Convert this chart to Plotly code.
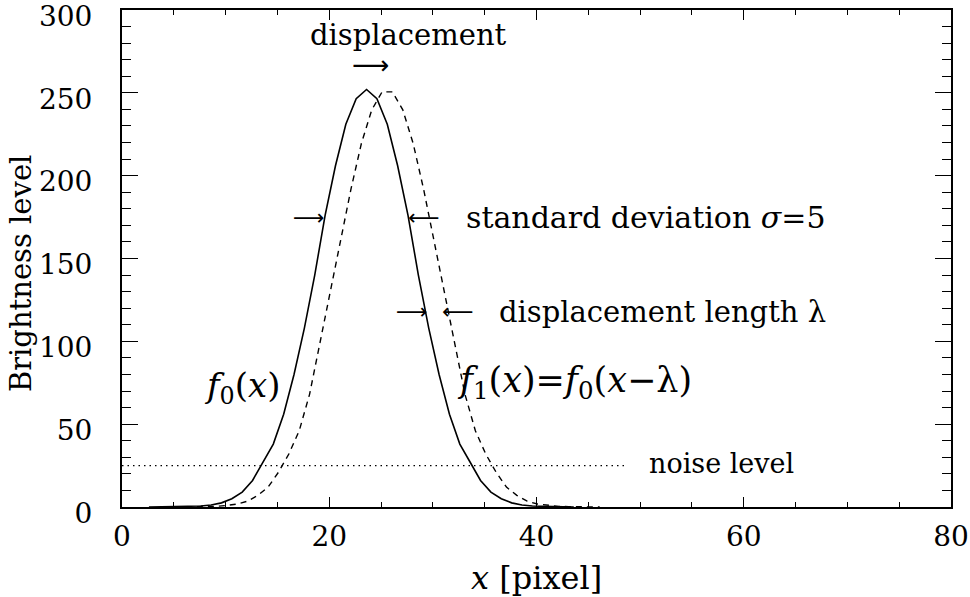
import plotly.graph_objects as go

# ---- data ----
# solid curve f0(x): sampled at unit steps, peak near x = 23.6
x0_start = 2.6
f0_values = [0.0, 0.1, 0.1, 0.2, 0.3, 0.6, 1.2, 2.5, 5.0, 9.0, 16.0, 27.0, 38.0, 56.0, 80.0,
             108.0, 140.0, 176.0, 206.0, 231.0, 246.5, 252.0, 246.5, 231.0, 206.0, 176.0,
             140.0, 108.0, 80.0, 56.0, 38.0, 27.0, 16.0, 9.0, 5.0, 2.5, 1.2, 0.6, 0.3, 0.2,
             0.1, 0.0]
# dashed curve f1(x) = f0(x - lambda): peak near x = 25.6
x1_start = 5.1
f1_values = [0.0, 0.1, 0.1, 0.2, 0.4, 0.9, 1.8, 3.5, 7.0, 12.0, 21.0, 32.0, 46.0, 68.0, 98.7,
             128.8, 160.9, 192.0, 219.4, 239.7, 250.6, 250.6, 239.7, 219.4, 192.0, 160.9,
             128.8, 98.7, 68.0, 46.0, 32.0, 21.0, 12.0, 7.0, 3.5, 1.8, 0.9, 0.4, 0.2, 0.1,
             0.1, 0.0]
noise_x = [0.0, 48.7]
noise_level = [25.0, 25.0]

x_ticks = [0, 20, 40, 60, 80]
y_ticks = [0, 50, 100, 150, 200, 250, 300]

x0 = [x0_start + i for i in range(len(f0_values))]
x1 = [x1_start + i for i in range(len(f1_values))]

FONT = "DejaVu Serif"
ARROW_FONT = "DejaVu Sans"

fig = go.Figure()
fig.add_trace(go.Scatter(x=x0, y=f0_values, mode="lines",
                         line=dict(color="black", width=1.6), showlegend=False))
fig.add_trace(go.Scatter(x=x1, y=f1_values, mode="lines",
                         line=dict(color="black", width=1.4, dash="6px,5px"), showlegend=False))
fig.add_trace(go.Scatter(x=noise_x, y=noise_level, mode="lines",
                         line=dict(color="black", width=1.2, dash="1.5px,4px"), showlegend=False))

def txt(x, y, s, size=29, xanchor="center", family=FONT):
    fig.add_annotation(x=x, y=y, xref="x", yref="y", text=s, showarrow=False,
                       xanchor=xanchor, yanchor="middle",
                       font=dict(family=family, size=size, color="black"))

txt(27.6, 285, "displacement")
txt(24.0, 267, "⟶", size=26, family=ARROW_FONT)
txt(18.0, 175, "⟶", size=22, family=ARROW_FONT)
txt(29.1, 175, "⟵", size=22, family=ARROW_FONT)
txt(33.0, 175, "standard deviation <i>σ</i>=5", size=30, xanchor="left")
txt(28.0, 118, "⟶", size=22, family=ARROW_FONT)
txt(32.4, 118, "⟵", size=22, family=ARROW_FONT)
txt(36.2, 118, "displacement length λ", xanchor="left")
txt(11.6, 72, "<i>f</i><sub>0</sub>(<i>x</i>)", size=34)
txt(32.1, 75, "<i>f</i><sub>1</sub>(<i>x</i>)=<i>f</i><sub>0</sub>(<i>x</i>−λ)", size=35, xanchor="left")
txt(50.7, 26, "noise level", size=27, xanchor="left")

# axis titles placed as paper annotations
fig.add_annotation(x=-0.121, y=0.47, xref="paper", yref="paper", text="Brightness level",
                   textangle=-90, showarrow=False, xanchor="center", yanchor="middle",
                   font=dict(family=FONT, size=29, color="black"))
fig.add_annotation(x=0.5, y=-0.143, xref="paper", yref="paper", text="<i>x</i> [pixel]",
                   showarrow=False, xanchor="center", yanchor="middle",
                   font=dict(family=FONT, size=32, color="black"))

axis_common = dict(showgrid=False, zeroline=False, showline=True, linecolor="black",
                   linewidth=2, mirror="ticks", ticks="inside", tickcolor="black",
                   tickwidth=1.3, ticklabeloverflow="allow", automargin=False,
                   tickfont=dict(family=FONT, size=28, color="black"))

fig.update_xaxes(range=[0, 80], tickvals=x_ticks, ticklen=10,
                 minor=dict(dtick=5, tick0=0, ticklen=5, ticks="inside", tickcolor="black", tickwidth=1.2),
                 ticklabelstandoff=3, **axis_common)
fig.update_yaxes(range=[0, 300], tickvals=y_ticks, ticklen=16,
                 minor=dict(dtick=10, tick0=0, ticklen=9, ticks="inside", tickcolor="black", tickwidth=1.2),
                 ticklabelstandoff=22, ticklabelshift=6, **axis_common)

fig.update_layout(width=970, height=597, paper_bgcolor="white", plot_bgcolor="white",
                  margin=dict(l=122, r=19, t=10, b=90), showlegend=False)

fig.write_html("out.html")
